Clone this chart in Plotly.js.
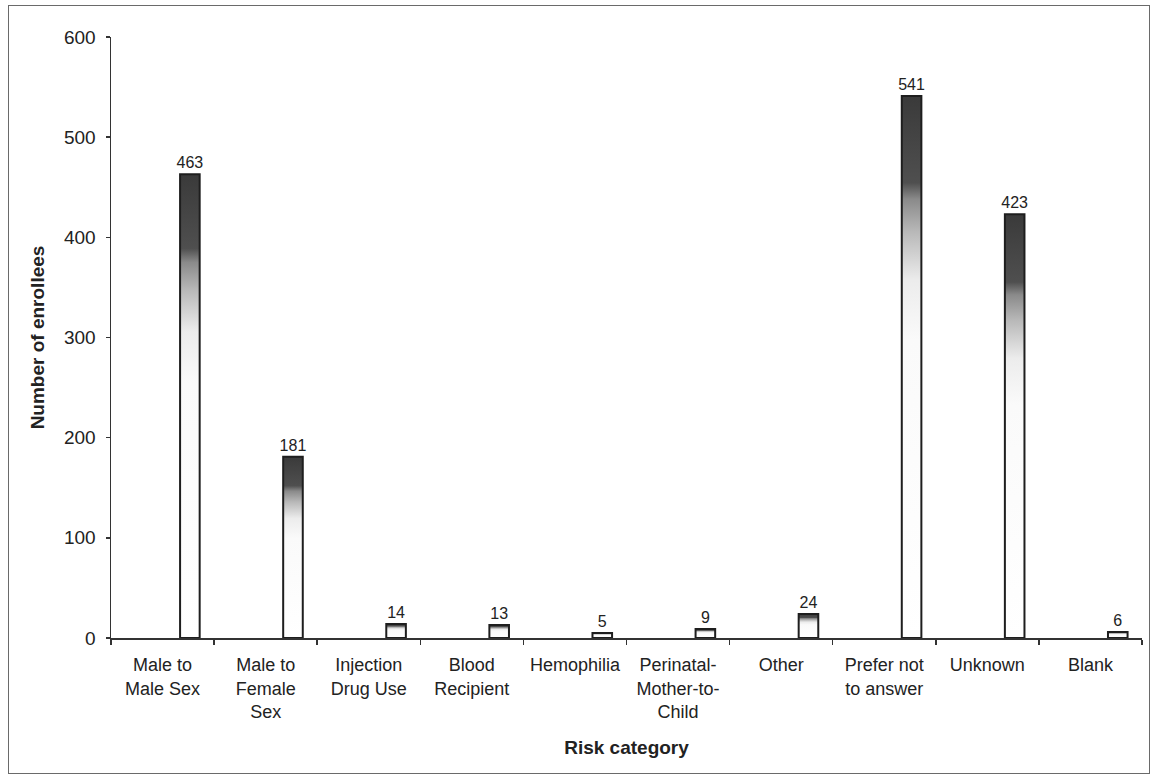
<!DOCTYPE html>
<html>
<head>
<meta charset="utf-8">
<script src="https://cdn.plot.ly/plotly-3.0.1.min.js"></script>
<style>
  html, body { margin: 0; padding: 0; background: #fff; }
  #wrap { position: relative; width: 1153px; height: 777px; }
  #chart { width: 1153px; height: 777px; }
  #frame { position: absolute; left: 8px; top: 5px; width: 1142px; height: 769px;
           border: 1.5px solid #6a6a6a; box-sizing: border-box; pointer-events: none; }
</style>
</head>
<body>
<div id="wrap">
  <div id="chart"></div>
  <div id="frame"></div>
</div>
<script>
const categories = [
  "Male to<br>Male Sex",
  "Male to<br>Female<br>Sex",
  "Injection<br>Drug Use",
  "Blood<br>Recipient",
  "Hemophilia",
  "Perinatal-<br>Mother-to-<br>Child",
  "Other",
  "Prefer not<br>to answer",
  "Unknown",
  "Blank"
];
const enrollees = [463, 181, 14, 13, 5, 9, 24, 541, 423, 6];
const yTicks = [0, 100, 200, 300, 400, 500, 600];

const font = "Arial, 'Liberation Sans', sans-serif";

const trace = {
  type: "bar",
  x: categories,
  y: enrollees,
  offset: 0.17,
  width: 0.19,
  marker: { color: "#bdbdbd", line: { color: "#1e1e1e", width: 2 } },
  text: enrollees.map(String),
  textposition: "outside",
  constraintext: "none",
  textfont: { family: font, size: 16, color: "#222" },
  cliponaxis: false,
  hoverinfo: "x+y"
};

const layout = {
  width: 1153,
  height: 777,
  margin: { l: 111, r: 11, t: 37, b: 139 },
  paper_bgcolor: "#fff",
  plot_bgcolor: "#fff",
  showlegend: false,
  font: { family: font, color: "#222" },
  xaxis: {
    type: "category",
    showline: true, linecolor: "#333", linewidth: 1.5,
    ticks: "outside", tickson: "boundaries", ticklen: 5, tickcolor: "#333", tickwidth: 1.5,
    ticklabelstandoff: 10,
    tickfont: { family: font, size: 18, color: "#222" },
    tickangle: 0,
    showgrid: false, zeroline: false,
    title: { text: "Risk category", font: { family: font, size: 19, color: "#222", weight: "bold" }, standoff: 20 }
  },
  yaxis: {
    range: [0, 600],
    tickvals: yTicks,
    showline: true, linecolor: "#333", linewidth: 1.5,
    ticks: "outside", ticklen: 4, tickcolor: "#333", tickwidth: 1.5,
    ticklabelstandoff: 6,
    tickfont: { family: font, size: 19, color: "#222" },
    showgrid: false, zeroline: false,
    title: { text: "Number of enrollees", font: { family: font, size: 19, color: "#222", weight: "bold" }, standoff: 14 }
  }
};

Plotly.newPlot("chart", [trace], layout, { displayModeBar: false, staticPlot: true }).then(function (gd) {
  const svgNS = "http://www.w3.org/2000/svg";
  const svg = gd.querySelector("svg.main-svg");
  let defs = svg.querySelector("defs");
  if (!defs) { defs = document.createElementNS(svgNS, "defs"); svg.insertBefore(defs, svg.firstChild); }
  const grad = document.createElementNS(svgNS, "linearGradient");
  grad.setAttribute("id", "barGrad");
  grad.setAttribute("x1", "0"); grad.setAttribute("y1", "0");
  grad.setAttribute("x2", "0"); grad.setAttribute("y2", "1");
  [["0", "#3a3a3a"], ["0.16", "#4f4f4f"], ["0.19", "#8a8a8a"], ["0.25", "#b8b8b8"], ["0.34", "#ececec"], ["0.45", "#fafafa"], ["1", "#ffffff"]]
    .forEach(function (s) {
      const st = document.createElementNS(svgNS, "stop");
      st.setAttribute("offset", s[0]);
      st.setAttribute("stop-color", s[1]);
      grad.appendChild(st);
    });
  defs.appendChild(grad);
  gd.querySelectorAll(".barlayer .point path").forEach(function (p) {
    p.style.fill = "url(#barGrad)";
    p.style.fillOpacity = 1;
  });
});
</script>
</body>
</html>
